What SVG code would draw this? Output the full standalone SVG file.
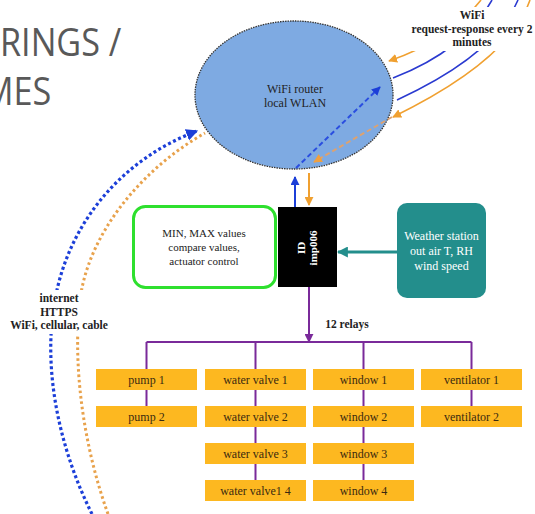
<svg xmlns="http://www.w3.org/2000/svg" width="535" height="514" viewBox="0 0 535 514">
<style>
.t{font-family:"Liberation Serif","Times New Roman",serif;fill:#222;text-anchor:middle}
.b{font-weight:bold}
.relay rect{fill:#fdb820}
.relay text{font-family:"Liberation Serif","Times New Roman",serif;font-size:12px;fill:#3a2a10;text-anchor:middle}
.pur{stroke:#7a2a9a;stroke-width:2;fill:none}
</style>
<defs>
<marker id="mBlue" viewBox="0 0 10 10" refX="9" refY="5" markerWidth="12" markerHeight="12" markerUnits="userSpaceOnUse" orient="auto"><path d="M0,0 L10,5 L0,10 z" fill="#1c3fd8"/></marker>
<marker id="mBlueS" viewBox="0 0 10 10" refX="9" refY="5" markerWidth="9" markerHeight="9" markerUnits="userSpaceOnUse" orient="auto"><path d="M0,0 L10,5 L0,10 z" fill="#1c3fd8"/></marker>
<marker id="mOr" viewBox="0 0 10 10" refX="9" refY="5" markerWidth="9" markerHeight="9" markerUnits="userSpaceOnUse" orient="auto"><path d="M0,0 L10,5 L0,10 z" fill="#f0a030"/></marker>
<marker id="mOrL" viewBox="0 0 10 10" refX="9" refY="5" markerWidth="9" markerHeight="9" markerUnits="userSpaceOnUse" orient="auto"><path d="M0,0 L10,5 L0,10 z" fill="#f0a040"/></marker>
<marker id="mPur" viewBox="0 0 10 10" refX="9" refY="5" markerWidth="9" markerHeight="9" markerUnits="userSpaceOnUse" orient="auto"><path d="M0,0 L10,5 L0,10 z" fill="#7a2a9a"/></marker>
<marker id="mTeal" viewBox="0 0 10 10" refX="9" refY="5" markerWidth="11" markerHeight="11" markerUnits="userSpaceOnUse" orient="auto"><path d="M0,0 L10,5 L0,10 z" fill="#238e8c"/></marker>
</defs>
<rect width="535" height="514" fill="#fff"/>

<g id="title" font-family="'Open Sans','Liberation Sans',sans-serif" font-size="38" fill="#595959">
<g transform="scale(0.9 1)">
<text x="0" y="56">RINGS /</text>
<text x="57" y="105" text-anchor="end">MES</text>
</g>
</g>

<g id="router">
<ellipse cx="294" cy="95" rx="99" ry="74" fill="#7eaae2" stroke="#333" stroke-width="1.3" stroke-dasharray="1.5 1"/>
<text class="t" x="295" y="93" font-size="12" fill="#1a2a50">WiFi router</text>
<text class="t" x="295" y="107" font-size="12" fill="#1a2a50">local WLAN</text>
</g>

<g id="connectors">
<!-- inner dashed arrows -->
<path d="M296,168 L380,87" stroke="#2a4ee0" stroke-width="2" stroke-dasharray="5 3" fill="none" marker-end="url(#mBlueS)"/>
<path d="M392,117 L314,162" stroke="#dda270" stroke-width="2" stroke-dasharray="5 3" fill="none" marker-end="url(#mOrL)"/>
<!-- right WiFi lines -->
<path d="M481,0 Q450,40 389,61" stroke="#f0a030" stroke-width="1.6" fill="none" marker-end="url(#mOr)"/>
<path d="M492,0 Q465,50 393,78" stroke="#2a3ad0" stroke-width="1.6" fill="none"/>
<path d="M518,0 Q495,55 397,100" stroke="#2a3ad0" stroke-width="1.6" fill="none"/>
<path d="M530,0 Q510,60 393,117" stroke="#f0a030" stroke-width="1.6" fill="none" marker-end="url(#mOr)"/>
<!-- internet dotted arcs -->
<path d="M92,514 C60,450 42,370 55,300 C68,225 120,160 197,131" stroke="#1c3fd8" stroke-width="3.2" stroke-dasharray="3 2.6" fill="none" marker-end="url(#mBlue)"/>
<path d="M108,514 C85,450 72,370 80,300 C88,235 140,170 205,133" stroke="#e8a24c" stroke-width="3" stroke-dasharray="2.6 2.8" fill="none"/>
<!-- router <-> controller -->
<path d="M295,207 L295,177" stroke="#1c3fd8" stroke-width="2" fill="none" marker-end="url(#mBlueS)"/>
<path d="M309,173 L309,205" stroke="#f0a030" stroke-width="2" fill="none" marker-end="url(#mOr)"/>
<!-- weather -> controller -->
<path d="M397,252 L338,252" stroke="#238e8c" stroke-width="3" fill="none" marker-end="url(#mTeal)"/>
<!-- relays bus -->
<path class="pur" d="M309,287 L309,342" marker-end="url(#mPur)"/>
<path class="pur" d="M146.5,342 L471.5,342 M146.5,342 V369 M255.5,342 V369 M363.5,342 V369 M471.5,342 V369"/>
<path class="pur" d="M146.5,390 V406 M255.5,390 V406 M255.5,427 V443 M255.5,464 V480 M363.5,390 V406 M363.5,427 V443 M363.5,464 V480 M471.5,390 V406"/>
</g>

<g id="wifi-label">
<rect x="398" y="7" width="137" height="44" fill="#fff"/>
<text class="t b" x="472" y="19" font-size="11.5">WiFi</text>
<text class="t b" x="472" y="33" font-size="11.5">request-response every 2</text>
<text class="t b" x="472" y="46" font-size="11.5">minutes</text>
</g>

<g id="internet-label">
<rect x="4" y="290" width="110" height="44" fill="#fff"/>
<text class="t b" x="59" y="302" font-size="11.5">internet</text>
<text class="t b" x="59" y="316" font-size="11.5">HTTPS</text>
<text class="t b" x="59" y="329" font-size="11.5">WiFi, cellular, cable</text>
</g>

<g id="logic">
<rect x="133.5" y="206.5" width="142" height="81" rx="12" fill="#fff" stroke="#2ee02e" stroke-width="3"/>
<text class="t" x="204" y="237" font-size="11">MIN, MAX values</text>
<text class="t" x="204" y="251" font-size="11">compare values,</text>
<text class="t" x="204" y="265" font-size="11">actuator control</text>
</g>

<g id="controller">
<rect x="278" y="207" width="59" height="80" fill="#000"/>
<text class="t b" transform="translate(305,248) rotate(-90)" font-size="11" fill="#fff" style="fill:#fff">ID</text>
<text class="t b" transform="translate(317,248) rotate(-90)" font-size="11" style="fill:#fff">imp006</text>
</g>

<g id="weather">
<rect x="397" y="203" width="89" height="95" rx="10" fill="#238e8c"/>
<text class="t" x="441.5" y="240" font-size="12" style="fill:#fff">Weather station</text>
<text class="t" x="441.5" y="255" font-size="12" style="fill:#fff">out air T, RH</text>
<text class="t" x="441.5" y="270" font-size="12" style="fill:#fff">wind speed</text>
</g>

<text id="relays-label" class="t b" x="347" y="328" font-size="11.5">12 relays</text>

<g id="pump1" class="relay"><rect x="96" y="369" width="101" height="21"/><text x="146.5" y="383.5">pump 1</text></g>
<g id="pump2" class="relay"><rect x="96" y="406" width="101" height="21"/><text x="146.5" y="420.5">pump 2</text></g>
<g id="valve1" class="relay"><rect x="205" y="369" width="101" height="21"/><text x="255.5" y="383.5">water valve 1</text></g>
<g id="valve2" class="relay"><rect x="205" y="406" width="101" height="21"/><text x="255.5" y="420.5">water valve 2</text></g>
<g id="valve3" class="relay"><rect x="205" y="443" width="101" height="21"/><text x="255.5" y="457.5">water valve 3</text></g>
<g id="valve4" class="relay"><rect x="205" y="480" width="101" height="21"/><text x="255.5" y="494.5">water valve1 4</text></g>
<g id="window1" class="relay"><rect x="313" y="369" width="101" height="21"/><text x="363.5" y="383.5">window 1</text></g>
<g id="window2" class="relay"><rect x="313" y="406" width="101" height="21"/><text x="363.5" y="420.5">window 2</text></g>
<g id="window3" class="relay"><rect x="313" y="443" width="101" height="21"/><text x="363.5" y="457.5">window 3</text></g>
<g id="window4" class="relay"><rect x="313" y="480" width="101" height="21"/><text x="363.5" y="494.5">window 4</text></g>
<g id="vent1" class="relay"><rect x="421" y="369" width="101" height="21"/><text x="471.5" y="383.5">ventilator 1</text></g>
<g id="vent2" class="relay"><rect x="421" y="406" width="101" height="21"/><text x="471.5" y="420.5">ventilator 2</text></g>
</svg>
